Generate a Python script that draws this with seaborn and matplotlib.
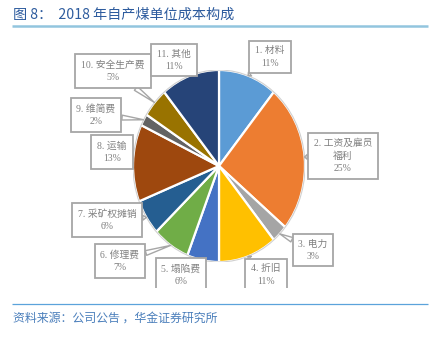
import numpy as np
import matplotlib
matplotlib.use("Agg")
import matplotlib.pyplot as plt
import seaborn as sns
from matplotlib.patches import Ellipse
from matplotlib.transforms import Bbox

sns.set_theme(style="white")
plt.rcParams['font.family'] = ['Noto Sans CJK SC', 'DejaVu Sans']

# ---- data ----
categories = ["1. 材料", "2. 工资及雇员\n福利", "3. 电力", "4. 折旧", "5. 塌陷费",
              "6. 修理费", "7. 采矿权摊销", "8. 运输", "9. 维简费", "10. 安全生产费", "11. 其他"]
values = [11, 25, 3, 11, 6, 7, 6, 13, 2, 5, 11]
pct_labels = ["11%", "25%", "3%", "11%", "6%", "7%", "6%", "13%", "2%", "5%", "11%"]
colors = ["#5B9BD5", "#ED7D31", "#A5A5A5", "#FFC000", "#4472C4", "#70AD47",
          "#255E91", "#9E480E", "#636363", "#997300", "#264478"]
title = "图 8：  2018 年自产煤单位成本构成"
source = "资料来源：公司公告 ，华金证券研究所"

# ---- layout (pixel positions of callout boxes) ----
box_pos = [(270, 57), (343, 156), (313, 250), (266, 275), (181, 275),
           (120, 261), (107, 220), (112, 152), (96, 115), (113, 71), (174, 60)]

W, H = 433, 337
fig = plt.figure(figsize=(W / 100, H / 100), dpi=100)
fig.patch.set_facecolor("white")

# pie axes (slightly elliptical like the reference)
ax_p = fig.add_axes([133 / W, (H - 262) / H, 172 / W, 192 / H])
wedges, _ = ax_p.pie(values, colors=colors, startangle=90, counterclock=False,
                     radius=1.0, wedgeprops=dict(edgecolor="white", linewidth=1.6))
ax_p.set_aspect("auto")
ax_p.set_xlim(-1, 1)
ax_p.set_ylim(-1, 1)
ax_p.axis("off")
ax_p.add_patch(Ellipse((0, 0), 2.0, 2.0, fill=False, edgecolor="#D0D0D0", lw=0.8, zorder=5))

# overlay axes in pixel coordinates
ax_o = fig.add_axes([0, 0, 1, 1])
ax_o.set_xlim(0, W)
ax_o.set_ylim(H, 0)
ax_o.axis("off")
ax_o.patch.set_alpha(0)

# callouts are cut off at the bottom like the reference crop
clip = Bbox.from_extents(0, H - 288, W, H)

vals = np.array(values, dtype=float)
cum = np.cumsum(vals) - vals / 2
mid_angles = np.deg2rad(90 - cum / vals.sum() * 360)

label_font = ['Liberation Serif', 'Noto Sans CJK SC']
for cat, pct, ang, (bx, by) in zip(categories, pct_labels, mid_angles, box_pos):
    ann = ax_o.annotate(
        f"{cat}\n{pct}", xy=(np.cos(ang), np.sin(ang)), xycoords=ax_p.transData,
        xytext=(bx, by), textcoords="data", ha="center", va="center",
        fontsize=7, color="#808080", linespacing=1.45, family=label_font,
        bbox=dict(boxstyle="square,pad=0.6", fc="white", ec="#A6A6A6", lw=1.3),
        arrowprops=dict(arrowstyle="wedge,tail_width=0.5", fc="white", ec="#A6A6A6",
                        lw=1.0, shrinkA=0, shrinkB=0),
        zorder=6,
    )
    ann.set_clip_box(clip)
    ann.set_clip_on(True)

# title and rules
ax_o.text(13, 15, title, fontsize=10.2, color="#2E5C9E", ha="left", va="center")
ax_o.plot([12, 428], [26, 26], color="#92C5DE", lw=1.8, solid_capstyle="butt")
ax_o.plot([12, 428], [304, 304], color="#5BA3DB", lw=0.9, solid_capstyle="butt")
ax_o.text(13, 318, source, fontsize=8.6, color="#4A7EBB", ha="left", va="center", style="italic")

fig.savefig("out.png", dpi=100, facecolor="white")
